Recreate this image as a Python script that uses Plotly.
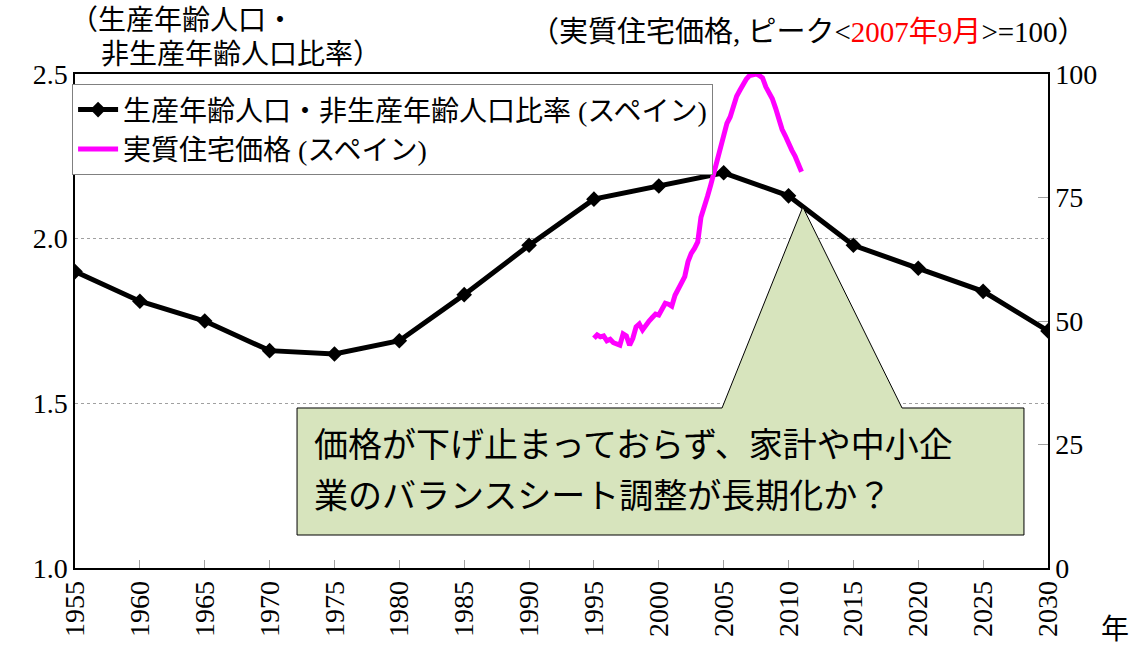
import plotly.graph_objects as go

# ---- data ----
years = [1955, 1960, 1965, 1970, 1975, 1980, 1985, 1990, 1995, 2000,
         2005, 2010, 2015, 2020, 2025, 2030]
ratio = [1.90, 1.81, 1.75, 1.66, 1.65, 1.69, 1.83, 1.98, 2.12, 2.16,
         2.20, 2.13, 1.98, 1.91, 1.84, 1.72]

# quarterly real house price, 1995Q1 .. 2011Q1 (peak 2007Q3 = 100)
price_start_year = 1995
price = [46.5, 47.2, 46.8, 47.0, 46.0, 46.3, 45.6, 45.3, 45.1, 47.4,
         47.0, 45.1, 46.5, 48.8, 49.4, 48.2, 49.2, 50.0, 50.7, 51.4,
         51.2, 52.6, 53.6, 53.4, 53.0, 55.2, 56.5, 57.3, 59.0, 62.0,
         63.7, 64.7, 66.0, 71.0, 73.6, 75.2, 77.5, 80.0, 82.8, 85.0,
         88.0, 90.0, 91.3, 93.8, 95.5, 96.7, 98.0, 99.0, 99.7, 99.9,
         100.0, 99.7, 99.2, 97.4, 96.4, 95.0, 93.1, 90.5, 88.8, 87.5,
         85.8, 84.6, 83.4, 82.0, 80.2]
price_x = [price_start_year + i / 4 for i in range(len(price))]

x_ticks = list(range(1955, 2031, 5))
name_ratio = "生産年齢人口・非生産年齢人口比率 (スペイン)"
name_price = "実質住宅価格 (スペイン)"
callout_lines = ["価格が下げ止まっておらず、家計や中小企",
                 "業のバランスシート調整が長期化か？"]
left_title = ["（生産年齢人口・", "非生産年齢人口比率）"]

SERIF = "Liberation Serif, Noto Sans CJK JP, serif"
GOTHIC = "Noto Sans CJK JP, sans-serif"

fig = go.Figure()
fig.add_trace(go.Scatter(
    x=years, y=ratio, name=name_ratio, mode="lines+markers",
    line=dict(color="black", width=5),
    marker=dict(symbol="diamond", size=12, color="black"),
    yaxis="y"))
fig.add_trace(go.Scatter(
    x=price_x, y=price, name=name_price, mode="lines",
    line=dict(color="#FF00FF", width=5),
    yaxis="y2"))

# callout box with pointer
fig.add_shape(
    type="path", xref="paper", yref="paper", layer="above",
    path="M 0.2282,0.3239 L 0.665,0.3239 L 0.748,0.7308 L 0.850,0.3239 "
         "L 0.9753,0.3239 L 0.9753,0.0668 L 0.2282,0.0668 Z",
    fillcolor="#D7E4BD", line=dict(color="black", width=1))

for txt, yy in zip(callout_lines, [0.255, 0.151]):
    fig.add_annotation(
        xref="paper", yref="paper", x=0.2436, y=yy, xanchor="left", yanchor="middle",
        text=txt, showarrow=False, align="left",
        font=dict(family=GOTHIC, size=34, color="black"))

for txt, xx, yy in zip(left_title, [-0.007, 0.0247], [1.109, 1.0385]):
    fig.add_annotation(
        xref="paper", yref="paper", x=xx, y=yy, xanchor="left", yanchor="middle",
        text=txt, showarrow=False, align="left",
        font=dict(family=SERIF, size=28, color="black"))

fig.add_annotation(
    xref="paper", yref="paper", x=1.042, y=1.085, xanchor="right", yanchor="middle",
    text="（実質住宅価格, ピーク&lt;<span style='color:red'>2007年9月</span>&gt;=100）",
    showarrow=False,
    font=dict(family=SERIF, size=29, color="black"))

fig.add_annotation(
    xref="paper", yref="paper", x=1.069, y=-0.1255, xanchor="center", yanchor="middle",
    text="年", showarrow=False,
    font=dict(family=SERIF, size=28, color="black"))

fig.update_layout(
    width=1134, height=648,
    margin=dict(l=75, r=86, t=74, b=80),
    paper_bgcolor="white", plot_bgcolor="white",
    font=dict(family=SERIF, size=28, color="black"),
    showlegend=True,
    legend=dict(x=-0.003, y=0.98, xanchor="left", yanchor="top",
                bgcolor="white", bordercolor="#808080", borderwidth=1,
                font=dict(family=SERIF, size=28, color="black"),
                itemwidth=40, tracegroupgap=0),
    xaxis=dict(range=[1955, 2030], tickmode="array", tickvals=x_ticks,
               ticktext=[str(v) for v in x_ticks], tickangle=-90,
               ticks="inside", ticklen=8, tickcolor="#A0A0A0",
               showline=True, linecolor="black", linewidth=1.5, mirror=True,
               showgrid=False, zeroline=False, automargin=False,
               tickfont=dict(family=SERIF, size=28)),
    yaxis=dict(range=[1.0, 2.5], dtick=0.5, tickformat=".1f",
               showline=True, linecolor="black", linewidth=1.5,
               showgrid=True, gridcolor="#A0A0A0", griddash="dot", gridwidth=1,
               ticks="", zeroline=False, automargin=False,
               tickfont=dict(family=SERIF, size=28)),
    yaxis2=dict(range=[0, 100], dtick=25, overlaying="y", side="right",
                showline=True, linecolor="black", linewidth=1.5,
                showgrid=False, ticks="inside", ticklen=10, tickcolor="#A0A0A0",
                zeroline=False, automargin=False,
                tickfont=dict(family=SERIF, size=28)),
)

fig.write_html("out.html", config={"displayModeBar": False},
               post_script="document.body.style.margin='0';document.body.style.padding='0';")
